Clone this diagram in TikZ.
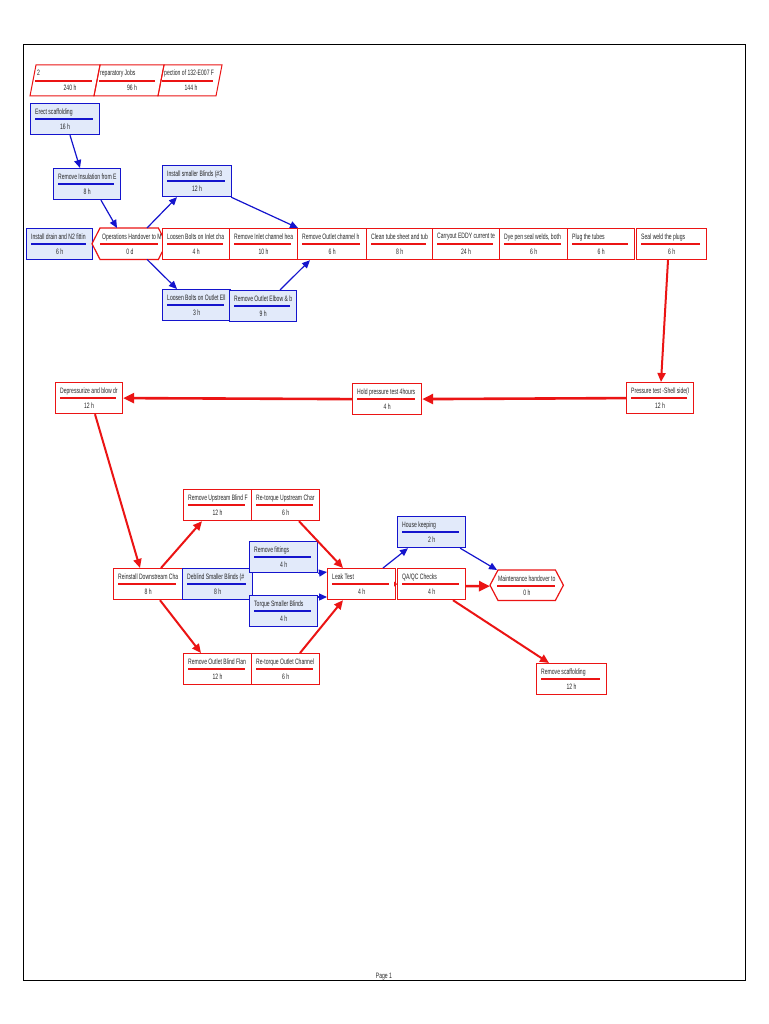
\documentclass[tikz,border=0pt]{standalone}
\usepackage{fontspec}
\setmainfont{Liberation Sans}
\newfontfamily\nf[FakeStretch=0.65]{Liberation Sans}
\usetikzlibrary{arrows.meta}
\definecolor{rc}{RGB}{235,20,20}
\definecolor{bc}{RGB}{20,20,205}
\definecolor{bfill}{RGB}{226,234,250}
\tikzset{
  txt/.style={font=\nf\fontsize{7.8}{9}\selectfont, inner sep=0pt, text=black!85},
  taskbox/.style={minimum width=#1, minimum height=31, anchor=north west, inner sep=0pt, line width=1.2pt},
  rbox/.style={draw=rc, fill=white},
  bbox/.style={draw=bc, fill=bfill},
  rline/.style={draw=rc, line width=1.4pt},
  bline/.style={draw=bc, line width=1.4pt},
  rarr/.style={draw=rc, line width=2pt, -{Triangle[length=9pt,width=8pt]}},
  rarrb/.style={draw=rc, line width=2.6pt, -{Triangle[length=11pt,width=10pt]}},
  barr/.style={draw=bc, line width=1.2pt, -{Triangle[length=8pt,width=7pt]}},
}
\newcommand\tasknode[7]{%
  \node[taskbox=#4, #5box] (#1) at (#2,#3) {};
  \node[txt, anchor=west] (#1t) at ([xshift=5pt,yshift=-9pt]#1.north west) {#6};
  \draw[#5line] ([xshift=5pt,yshift=-16pt]#1.north west) -- ([xshift=-7pt,yshift=-16pt]#1.north east);
  \node[txt] (#1d) at ([yshift=-24pt]#1.north) {#7};
}
\begin{document}
\begin{tikzpicture}[x=1pt,y=-1pt]
\useasboundingbox (0,0) rectangle (768,1024);
\fill[white] (0,0) rectangle (768,1024);
\draw[line width=0.9pt] (23,44) rectangle (745,980);
\node[txt] (page) at (384,977) {Page 1};

% summary tasks
\draw[rc, line width=1pt] (36,65) -- (100,65) -- (94,96) -- (30,96) -- cycle;
\draw[rc, line width=1pt] (100,65) -- (164,65) -- (158,96) -- (94,96) -- cycle;
\draw[rc, line width=1pt] (164,65) -- (222,65) -- (216,96) -- (158,96) -- cycle;
\draw[rline] (35,81) -- (92,81);
\draw[rline] (99,81) -- (155,81);
\draw[rline] (162,81) -- (213,81);
\node[txt, anchor=west] (s1t) at (37,73) {2};
\node[txt] (s1d) at (70,88) {240 h};
\node[txt, anchor=west] (s2t) at (100,73) {reparatory Jobs};
\node[txt] (s2d) at (132,88) {96 h};
\node[txt, anchor=west] (s3t) at (164,73) {pection of 132-E007 F};
\node[txt] (s3d) at (191,88) {144 h};

% top group
\tasknode{erect}{30}{103}{69}{b}{Erect scaffolding}{16 h}
\tasknode{reminsul}{53}{168}{67}{b}{Remove Insulation from E}{8 h}
\tasknode{smb}{162}{165}{69}{b}{Install smaller Blinds (\#3}{12 h}
\tasknode{drain}{26}{228}{66}{b}{Install drain and N2 fittin}{6 h}

\node[minimum width=74, minimum height=31, anchor=north west, inner sep=0pt] (ops) at (92,228) {};
\draw[rc, fill=white, line width=1.2pt] (ops.west) -- ([xshift=8pt]ops.north west) -- ([xshift=-8pt]ops.north east) -- (ops.east) -- ([xshift=-8pt]ops.south east) -- ([xshift=8pt]ops.south west) -- cycle;
\node[txt, anchor=west] (opst) at (102,237) {Operations Handover to M};
\draw[rline] (100,244) -- (158,244);
\node[txt] (opsd) at (130,252) {0 d};

\tasknode{loosein}{162}{228}{67}{r}{Loosen Bolts on Inlet cha}{4 h}
\tasknode{reminch}{229}{228}{68}{r}{Remove Inlet channel hea}{10 h}
\tasknode{remoutch}{297}{228}{69}{r}{Remove Outlet channel h}{6 h}
\tasknode{clean}{366}{228}{66}{r}{Clean tube sheet and tub}{8 h}
\tasknode{eddy}{432}{228}{67}{r}{Carryout EDDY current te}{24 h}
\tasknode{dye}{499}{228}{68}{r}{Dye pen seal welds, both}{6 h}
\tasknode{plug}{567}{228}{67}{r}{Plug the tubes}{6 h}
\tasknode{seal}{636}{228}{70}{r}{Seal weld the plugs}{6 h}
\tasknode{looseout}{162}{289}{68}{b}{Loosen Bolts on Outlet Ell}{3 h}
\tasknode{remelb}{229}{290}{67}{b}{Remove Outlet Elbow \& b}{9 h}

% middle row
\tasknode{press}{626}{382}{67}{r}{Pressure test -Shell side(I}{12 h}
\tasknode{hold}{352}{383}{69}{r}{Hold pressure test 4hours}{4 h}
\tasknode{depress}{55}{382}{67}{r}{Depressurize and blow dr}{12 h}

% bottom group
\tasknode{remup}{183}{489}{68}{r}{Remove Upstream Blind F}{12 h}
\tasknode{retup}{251}{489}{68}{r}{Re-torque Upstream Char}{6 h}
\tasknode{reinst}{113}{568}{69}{r}{Reinstall Downstream Cha}{8 h}
\tasknode{deblind}{182}{568}{70}{b}{Deblind Smaller Blinds (\#}{8 h}
\tasknode{remfit}{249}{541}{68}{b}{Remove fittings}{4 h}
\tasknode{torque}{249}{595}{68}{b}{Torque Smaller Blinds}{4 h}
\tasknode{remob}{183}{653}{68}{r}{Remove Outlet Blind Flan}{12 h}
\tasknode{retout}{251}{653}{68}{r}{Re-torque Outlet Channel}{6 h}
\tasknode{leak}{327}{568}{68}{r}{Leak Test}{4 h}
\tasknode{qaqc}{397}{568}{68}{r}{QA/QC Checks}{4 h}
\tasknode{house}{397}{516}{68}{b}{House keeping}{2 h}
\tasknode{remscaf}{536}{663}{70}{r}{Remove scaffolding}{12 h}

\node[minimum width=73, minimum height=30, anchor=north west, inner sep=0pt] (maint) at (490,570) {};
\draw[rc, fill=white, line width=1.2pt] (maint.west) -- ([xshift=8pt]maint.north west) -- ([xshift=-8pt]maint.north east) -- (maint.east) -- ([xshift=-8pt]maint.south east) -- ([xshift=8pt]maint.south west) -- cycle;
\node[txt, anchor=west] (maintt) at (498,579) {Maintenance handover to};
\draw[rline] (497,586) -- (555,586);
\node[txt] (maintd) at (527,593) {0 h};

% blue connectors
\draw[barr] ([xshift=40pt]erect.south west) -- ([xshift=27pt]reminsul.north west);
\draw[barr] ([xshift=48pt]reminsul.south west) -- ([xshift=25pt]ops.north west);
\draw[barr] ([xshift=55pt]ops.north west) -- ([xshift=15pt]smb.south west);
\draw[barr] ([xshift=55pt]ops.south west) -- ([xshift=15pt]looseout.north west);
\draw[barr] ([xshift=-1pt]smb.south east) -- ([xshift=1pt]remoutch.north west);
\draw[barr] ([xshift=51pt]remelb.north west) -- ([xshift=13pt]remoutch.south west);
\draw[barr] (remfit.south east) -- ([yshift=-4pt]leak.north west);
\draw[barr] ([yshift=-2pt]torque.north east) -- ([yshift=-29pt]leak.north west);
\draw[barr] ([xshift=56pt]leak.north west) -- ([xshift=11pt]house.south west);
\draw[barr] ([xshift=-6pt]house.south east) -- ([xshift=7pt]maint.north west);

% red connectors
\draw[rarr] ([xshift=32pt]seal.south west) -- ([xshift=35pt]press.north west);
\draw[rarrb] (press.west) -- (hold.east);
\draw[rarrb] (hold.west) -- (depress.east);
\draw[rarr] ([xshift=40pt]depress.south west) -- ([xshift=27pt]reinst.north west);
\draw[rarr] ([xshift=48pt]reinst.north west) -- ([xshift=19pt]remup.south west);
\draw[rarr] ([xshift=47pt]reinst.south west) -- ([xshift=18pt]remob.north west);
\draw[rarr] ([xshift=48pt]retup.south west) -- ([xshift=16pt]leak.north west);
\draw[rarr] ([xshift=49pt]retout.north west) -- ([xshift=16pt]leak.south west);
\draw[draw=rc, line width=1pt, -{Triangle[length=3pt,width=5pt]}] (leak.east) -- (qaqc.west);
\draw[rarrb] ([yshift=-2pt]qaqc.east) -- ([yshift=-1pt]maint.west);
\draw[rarr] ([xshift=56pt]qaqc.south west) -- ([xshift=13pt]remscaf.north west);
\end{tikzpicture}
\end{document}
